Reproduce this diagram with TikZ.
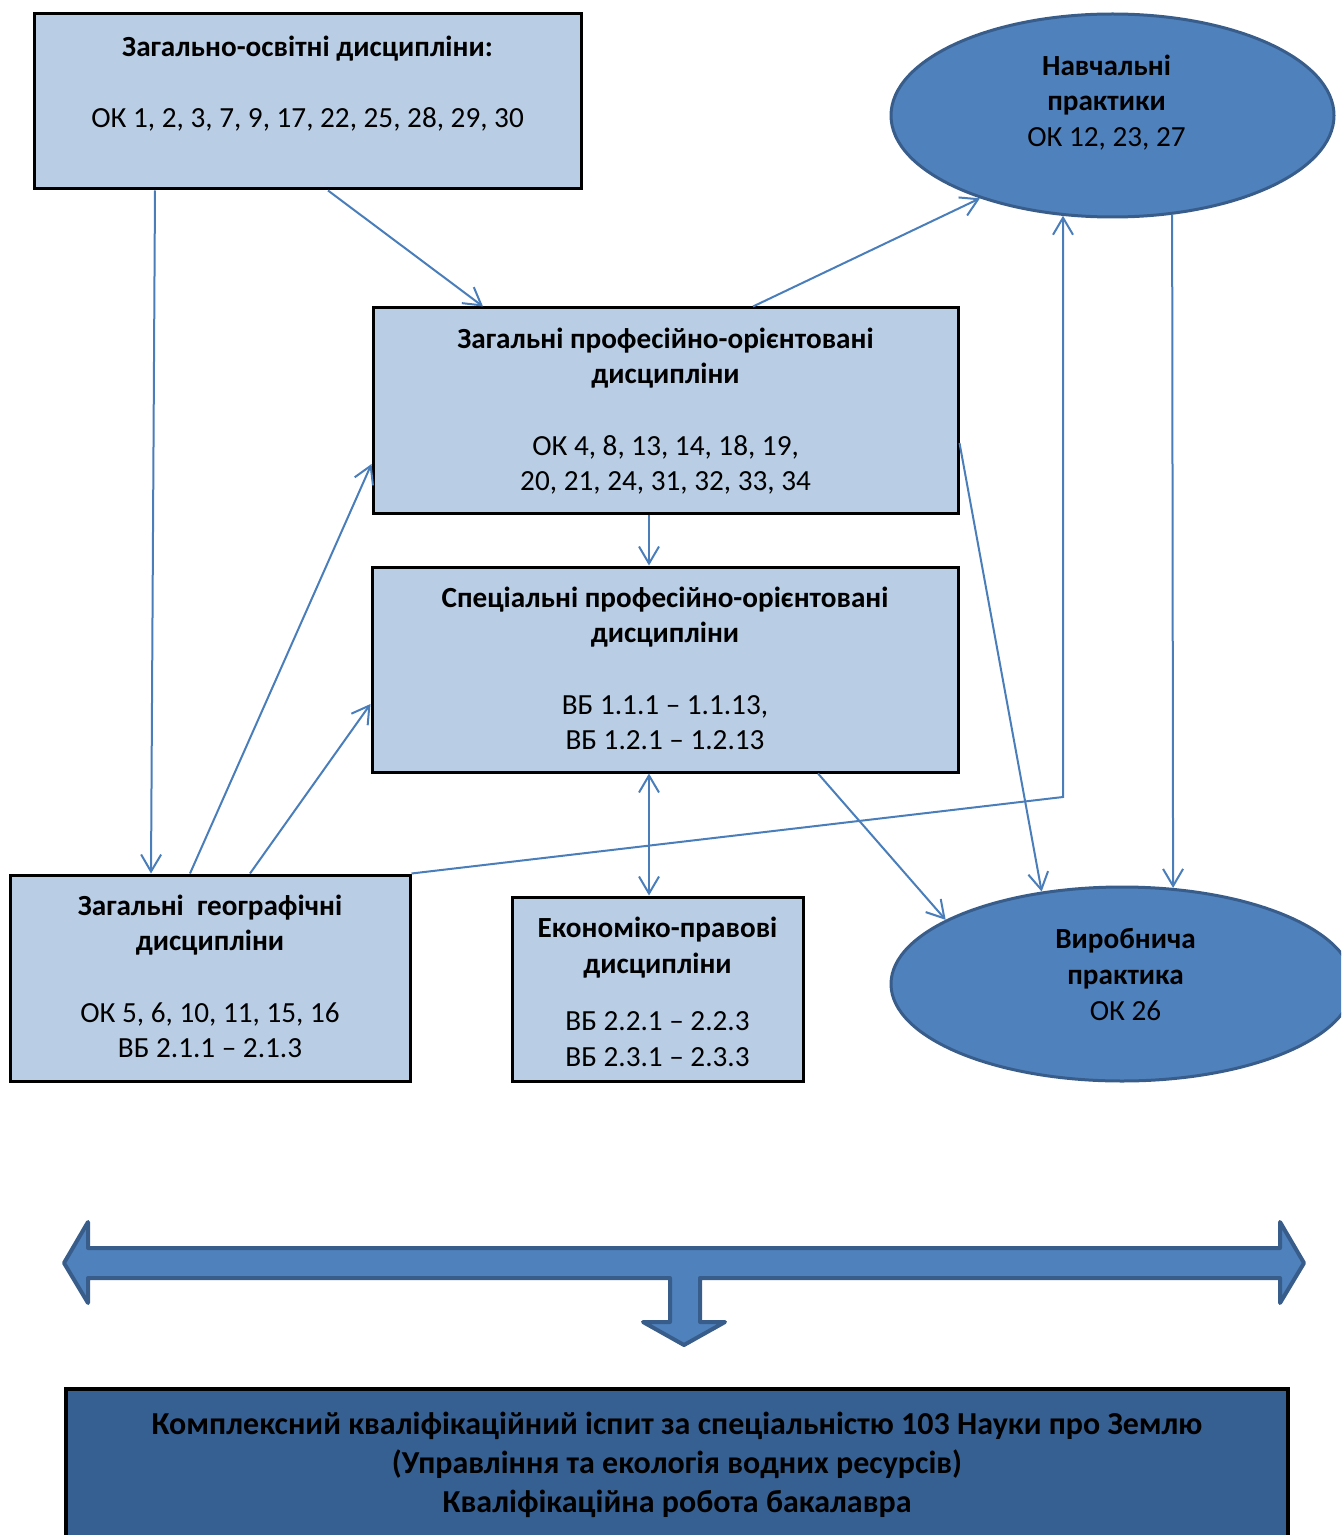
\documentclass[tikz,border=0pt]{standalone}
\usepackage{fontspec}
\setmainfont{Carlito}
\usepackage{tikz}
\usetikzlibrary{positioning, shapes.geometric, arrows.meta}
\definecolor{boxblue}{HTML}{B9CDE5}
\definecolor{ellblue}{HTML}{4F81BD}
\definecolor{elledge}{HTML}{385D8A}
\definecolor{linkblue}{HTML}{4A7EBB}
\definecolor{examblue}{HTML}{376092}
\tikzset{
    discbox/.style={
        rectangle,
        draw=black, % 黑色边框
        fill=boxblue, % 浅蓝填充
        line width=1.5pt,
        inner sep=0
    },
    pracnode/.style={
        ellipse,
        draw=elledge,
        fill=ellblue,
        line width=1.5pt, % 边框加粗
        inner sep=0
    },
    disctext/.style={
        align=center,
        inner sep=0,
        font=\fontsize{14.6}{17.8}\selectfont
    },
    link/.style={
        draw=linkblue,
        line width=1pt
    },
    >={Straight Barb[length=8.5pt,width=10pt]}
}

\begin{document}
\begin{tikzpicture}[x=0.5pt, y=-0.5pt]
    \clip (0,0) rectangle (1341,1535);
    % 学科方框
    \node[discbox, minimum width=273.5pt, minimum height=87.5pt] (zag) at (307.5,101.5) {};
    \node[disctext, below=11.6pt of zag.north] (zagtxt)
        {\textbf{Загально-освітні дисципліни:}\\[17.8pt] ОК 1, 2, 3, 7, 9, 17, 22, 25, 28, 29, 30};
    \node[discbox, minimum width=292.5pt, minimum height=102.5pt] (prof) at (665.5,410.5) {};
    \node[disctext, below=10.5pt of prof.north] (proftxt)
        {\textbf{Загальні професійно-орієнтовані}\\ \textbf{дисципліни}\\[17.8pt]
         ОК 4, 8, 13, 14, 18, 19,\\ 20, 21, 24, 31, 32, 33, 34};
    \node[discbox, minimum width=293pt, minimum height=102.5pt] (spec) at (665,669.5) {};
    \node[disctext, below=10.5pt of spec.north] (spectxt)
        {\textbf{Спеціальні професійно-орієнтовані}\\ \textbf{дисципліни}\\[17.8pt]
         ВБ 1.1.1 – 1.1.13,\\ ВБ 1.2.1 – 1.2.13};
    \node[discbox, minimum width=200pt, minimum height=103pt] (geo) at (210,978) {};
    \node[disctext, below=10.5pt of geo.north] (geotxt)
        {\textbf{Загальні~ географічні}\\ \textbf{дисципліни}\\[17.8pt]
         ОК 5, 6, 10, 11, 15, 16\\ ВБ 2.1.1 – 2.1.3};
    \node[discbox, minimum width=145.5pt, minimum height=92pt] (econ) at (657.5,989) {};
    \node[disctext, below=10.7pt of econ.north] (econtxt)
        {\textbf{Економіко-правові}\\ \textbf{дисципліни}\\[11pt]
         ВБ 2.2.1 – 2.2.3\\ ВБ 2.3.1 – 2.3.3};
    % 实践
    \node[pracnode, minimum width=221.5pt, minimum height=101.5pt] (nav) at (1112.5,115.5) {};
    \node[disctext, below=20.9pt of nav.north, xshift=-3pt] (navtxt)
        {\textbf{Навчальні}\\ \textbf{практики}\\ ОК 12, 23, 27};
    \node[pracnode, minimum width=231pt, minimum height=97pt] (vyr) at (1122,984) {};
    \node[disctext, below=21.4pt of vyr.north, xshift=1.75pt] (vyrtxt)
        {\textbf{Виробнича}\\ \textbf{практика}\\ ОК 26};
    % 连线
    \draw[link, ->] ([xshift=-76.25pt]zag.south) -- ([xshift=-29.5pt]geo.north);
    \draw[link, ->] ([xshift=10.25pt]zag.south) -- ([xshift=-91.25pt]prof.north);
    \draw[link, ->] ([xshift=43.75pt]prof.north) -- (nav.212);
    \draw[link, ->] ([xshift=-10pt]geo.north) -- ([yshift=-26.75pt]prof.west);
    \draw[link, ->] ([xshift=20pt]geo.north) -- ([yshift=-17.25pt]spec.west);
    \draw[link, ->] ([xshift=-8.25pt]prof.south) -- ([xshift=-8pt]spec.north);
    \draw[link, <->] ([xshift=-8pt]spec.south) -- ([xshift=-4.25pt]econ.north);
    \draw[link, ->] ([xshift=76.5pt]spec.south) -- (vyr.160);
    \draw[link, ->] ([yshift=-16.25pt]prof.east) -- (vyr.131);
    \draw[link, ->] (nav.-59) -- (vyr.62);
    \coordinate (bend) at (1063,797);
    \draw[link, ->] (geo.north east) -- (bend) -- (bend |- nav.243);
    % 大箭头
    \draw[draw=elledge, fill=ellblue, line width=2pt, line join=round]
        (64,1263) -- (88,1222) -- (88,1248) -- (1280,1248) -- (1280,1222) -- (1304,1263)
        -- (1280,1303) -- (1280,1278) -- (700,1278) -- (700,1322) -- (725,1322) -- (684,1345)
        -- (643,1322) -- (670,1322) -- (670,1278) -- (88,1278) -- (88,1303) -- cycle;
    % 考试
    \node[discbox, fill=examblue, line width=2pt, minimum width=611pt, minimum height=85.5pt] (exam) at (677,1474.5) {};
    \node[disctext, font=\fontsize{16}{19.5}\selectfont, below=12.2pt of exam.north] (examtxt)
        {\textbf{Комплексний кваліфікаційний іспит за спеціальністю 103 Науки про Землю}\\
         \textbf{(Управління та екологія водних ресурсів)}\\
         \textbf{Кваліфікаційна робота бакалавра}};
\end{tikzpicture}
\end{document}
